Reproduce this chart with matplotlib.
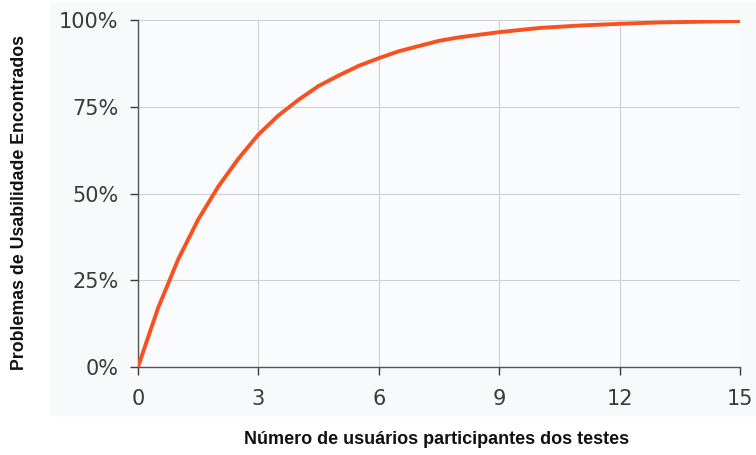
import matplotlib.pyplot as plt
from matplotlib.patches import Rectangle

# valores
usuarios = [0, 0.5, 1, 1.5, 2, 2.5, 3, 3.5, 4, 4.5, 5, 5.5, 6, 6.5, 7, 7.5, 8,
            9, 10, 11, 12, 13, 14, 15]
problemas = [0, 0.17, 0.31, 0.425, 0.52, 0.60, 0.67, 0.725, 0.77, 0.81, 0.84, 0.868,
             0.89, 0.91, 0.925, 0.94, 0.95, 0.965, 0.977, 0.984, 0.989, 0.993, 0.995, 0.997]
xticks = [0, 3, 6, 9, 12, 15]
yticks = [0, 0.25, 0.5, 0.75, 1.0]
ylabels = ["0%", "25%", "50%", "75%", "100%"]

fig = plt.figure(figsize=(7.56, 4.55), dpi=100)
fig.patches.append(Rectangle((50 / 756, 40 / 455), 706 / 756, 413 / 455,
                             transform=fig.transFigure, color="#f7f9fa", zorder=-10))
ax = fig.add_axes([138 / 756, 1 - 367 / 455, 602 / 756, 347 / 455])
ax.set_facecolor("#f9fbfc")

ax.plot(usuarios, problemas, color="#f8501e", linewidth=2.8, solid_capstyle="round",
        solid_joinstyle="round", zorder=3)

ax.set_xlim(0, 15)
ax.set_ylim(0, 1.0)
ax.set_xticks(xticks)
ax.set_yticks(yticks)
ax.set_yticklabels(ylabels)
ax.tick_params(labelsize=15, colors="#3a3a3a", length=6, width=1)
ax.tick_params(axis="x", pad=10)
ax.tick_params(axis="y", pad=8)
ax.grid(True, color="#d0d0d0", linewidth=0.8)
for s in ["top", "right"]:
    ax.spines[s].set_visible(False)
for s in ["left", "bottom"]:
    ax.spines[s].set_color("#555555")
    ax.spines[s].set_linewidth(1.0)

fig.text(437 / 756, 1 - 439 / 455, "Número de usuários participantes dos testes",
         ha="center", va="center", fontsize=13, family="Liberation Sans", weight="bold", color="#111111")
fig.text(20 / 756, 1 - 203 / 455, "Problemas de Usabilidade Encontrados",
         ha="center", va="center", rotation=90, fontsize=12.8, family="Liberation Sans", weight="bold", color="#111111")

plt.savefig("out.png")
